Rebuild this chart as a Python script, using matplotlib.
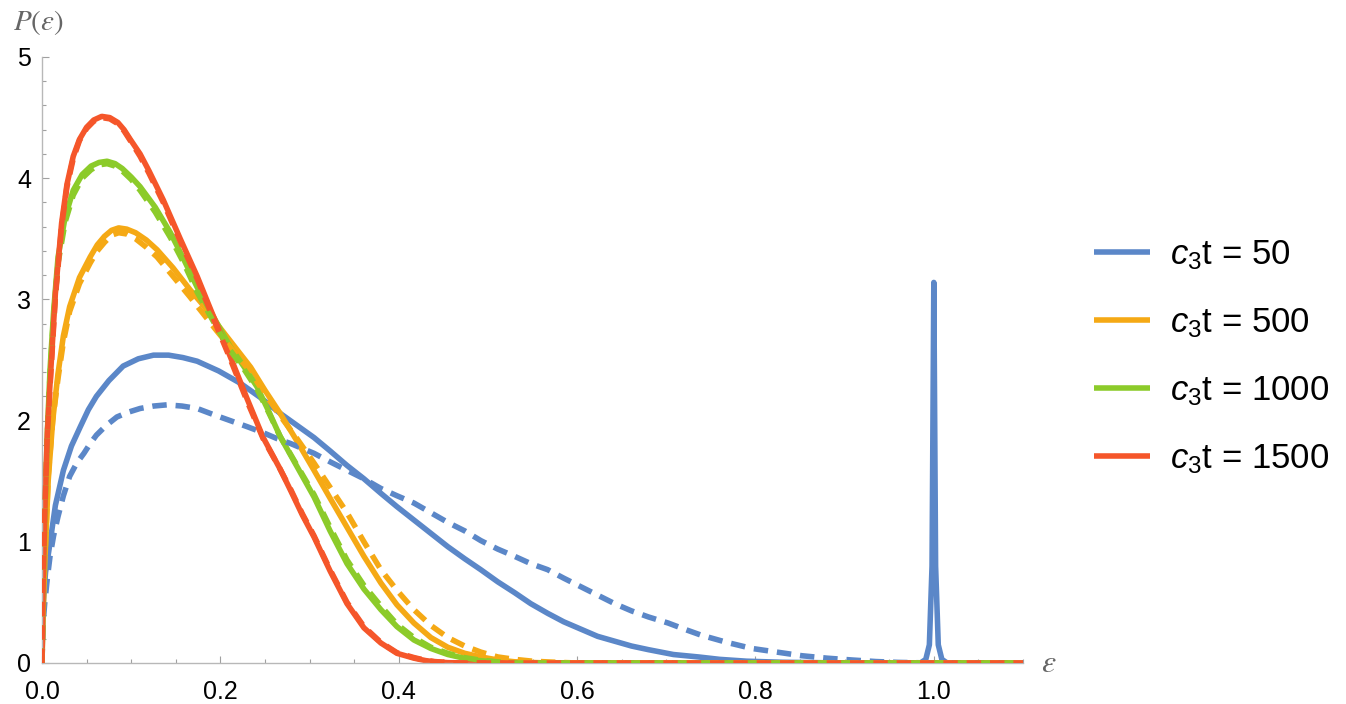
import matplotlib
matplotlib.use("Agg")
import matplotlib.pyplot as plt
from matplotlib.ticker import MultipleLocator, FormatStrFormatter

plt.rcParams['font.family'] = ['Liberation Sans', 'DejaVu Sans']
plt.rcParams['mathtext.fontset'] = 'custom'
plt.rcParams['mathtext.it'] = 'Liberation Sans:italic'
plt.rcParams['mathtext.rm'] = 'Liberation Sans'

# ---- data ----
labels = ["$c_3$t = 50", "$c_3$t = 500", "$c_3$t = 1000", "$c_3$t = 1500"]
colors = ["#5B87C8", "#F5A915", "#8CCB2A", "#F5562A"]

x_50 = [0, 0.001, 0.004, 0.009, 0.015, 0.024, 0.033, 0.043, 0.052, 0.061, 0.075, 0.091,
        0.108, 0.125, 0.142, 0.158, 0.174, 0.198, 0.222, 0.245, 0.267, 0.286, 0.305,
        0.323, 0.342, 0.361, 0.38, 0.398, 0.417, 0.436, 0.455, 0.474, 0.492, 0.511,
        0.53, 0.548, 0.567, 0.585, 0.604, 0.623, 0.642, 0.661, 0.68, 0.708, 0.736,
        0.76, 0.79, 0.83, 0.88, 0.985, 0.991, 0.995, 0.998, 1.0, 1.002, 1.005, 1.009,
        1.015, 1.1]
y_50 = [0, 0.45, 0.75, 0.99, 1.30, 1.59, 1.79, 1.95, 2.09, 2.20, 2.33, 2.45,
        2.51, 2.54, 2.54, 2.52, 2.49, 2.41, 2.31, 2.19, 2.06, 1.96, 1.86,
        1.75, 1.63, 1.52, 1.40, 1.29, 1.18, 1.07, 0.96, 0.86, 0.77, 0.67,
        0.58, 0.49, 0.41, 0.34, 0.28, 0.22, 0.18, 0.14, 0.11, 0.07, 0.05,
        0.03, 0.015, 0.006, 0.002, 0, 0.03, 0.15, 0.8, 3.14, 0.8, 0.15, 0.03,
        0, 0]

x_500 = [0, 0.001, 0.003, 0.007, 0.012, 0.018, 0.024, 0.031, 0.042, 0.054, 0.062, 0.07,
         0.078, 0.086, 0.095, 0.105, 0.117, 0.129, 0.147, 0.166, 0.181, 0.196, 0.215,
         0.234, 0.25, 0.267, 0.286, 0.305, 0.323, 0.342, 0.361, 0.38, 0.398, 0.417,
         0.436, 0.455, 0.474, 0.492, 0.511, 0.53, 0.55, 0.57, 1.1]
y_500 = [0, 0.35, 0.80, 1.51, 2.00, 2.39, 2.70, 2.94, 3.18, 3.35, 3.45, 3.52,
         3.57, 3.59, 3.58, 3.55, 3.49, 3.41, 3.26, 3.08, 2.95, 2.80, 2.62,
         2.44, 2.25, 2.06, 1.83, 1.59, 1.36, 1.12, 0.88, 0.66, 0.48, 0.33,
         0.21, 0.13, 0.08, 0.05, 0.025, 0.01, 0.004, 0, 0]

x_1000 = [0, 0.001, 0.003, 0.006, 0.009, 0.013, 0.018, 0.026, 0.035, 0.045, 0.055, 0.064,
          0.073, 0.082, 0.09, 0.1, 0.11, 0.127, 0.144, 0.159, 0.174, 0.192, 0.211,
          0.226, 0.241, 0.254, 0.267, 0.286, 0.305, 0.323, 0.342, 0.361, 0.38, 0.398,
          0.417, 0.436, 0.455, 0.473, 0.49, 0.51, 0.53, 1.1]
y_1000 = [0, 0.50, 1.20, 1.90, 2.42, 2.90, 3.35, 3.68, 3.90, 4.03, 4.10, 4.13,
          4.14, 4.12, 4.08, 4.01, 3.93, 3.76, 3.55, 3.33, 3.10, 2.86, 2.61,
          2.45, 2.28, 2.08, 1.87, 1.62, 1.37, 1.09, 0.82, 0.61, 0.44, 0.30,
          0.19, 0.12, 0.07, 0.04, 0.02, 0.008, 0, 0]

x_1500 = [0, 0.001, 0.0034, 0.006, 0.009, 0.015, 0.022, 0.028, 0.035, 0.042, 0.05, 0.058,
          0.067, 0.076, 0.085, 0.092, 0.099, 0.11, 0.12, 0.136, 0.155, 0.174, 0.19,
          0.211, 0.23, 0.248, 0.267, 0.279, 0.292, 0.305, 0.323, 0.342, 0.361, 0.38,
          0.398, 0.417, 0.43, 0.44, 0.455, 0.47, 1.1]
y_1500 = [0, 0.60, 1.32, 1.90, 2.31, 3.05, 3.63, 3.95, 4.18, 4.32, 4.42, 4.48,
          4.51, 4.50, 4.46, 4.40, 4.32, 4.20, 4.06, 3.82, 3.50, 3.19, 2.90,
          2.53, 2.18, 1.86, 1.60, 1.42, 1.22, 1.04, 0.76, 0.49, 0.29, 0.165,
          0.08, 0.04, 0.02, 0.01, 0.003, 0, 0]

# dashed (simulation) curves
xd_50 = [0, 0.001, 0.003, 0.006, 0.009, 0.013, 0.018, 0.024, 0.031, 0.039, 0.047, 0.054,
         0.061, 0.072, 0.084, 0.097, 0.11, 0.125, 0.14, 0.157, 0.174, 0.192, 0.211,
         0.23, 0.248, 0.264, 0.279, 0.292, 0.305, 0.323, 0.342, 0.361, 0.38, 0.398,
         0.417, 0.436, 0.455, 0.474, 0.492, 0.511, 0.53, 0.548, 0.567, 0.585, 0.604,
         0.623, 0.642, 0.661, 0.68, 0.702, 0.72, 0.739, 0.768, 0.796, 0.824, 0.852,
         0.88, 0.908, 0.935, 0.96, 1.0, 1.1]
yd_50 = [0, 0.30, 0.49, 0.70, 0.88, 1.05, 1.21, 1.38, 1.54, 1.65, 1.73, 1.81,
         1.88, 1.96, 2.03, 2.07, 2.10, 2.12, 2.13, 2.12, 2.10, 2.05, 2.00,
         1.95, 1.90, 1.85, 1.81, 1.77, 1.73, 1.66, 1.59, 1.52, 1.44, 1.38,
         1.32, 1.24, 1.16, 1.09, 1.01, 0.94, 0.88, 0.82, 0.77, 0.70, 0.63,
         0.56, 0.49, 0.43, 0.38, 0.33, 0.28, 0.23, 0.17, 0.12, 0.09, 0.06,
         0.04, 0.025, 0.012, 0.005, 0, 0]

xd_500 = [0, 0.001, 0.003, 0.007, 0.012, 0.018, 0.024, 0.031, 0.042, 0.054, 0.062, 0.07,
          0.078, 0.086, 0.095, 0.105, 0.117, 0.129, 0.147, 0.166, 0.181, 0.196, 0.215,
          0.234, 0.25, 0.267, 0.286, 0.305, 0.323, 0.342, 0.361, 0.38, 0.398, 0.417,
          0.436, 0.455, 0.474, 0.492, 0.511, 0.53, 0.55, 0.57, 0.6, 1.1]
yd_500 = [0, 0.35, 0.80, 1.55, 2.00, 2.35, 2.65, 2.90, 3.13, 3.30, 3.40, 3.47,
          3.53, 3.55, 3.54, 3.50, 3.43, 3.35, 3.19, 3.02, 2.88, 2.74, 2.57,
          2.40, 2.22, 2.04, 1.85, 1.65, 1.45, 1.24, 1.00, 0.77, 0.60, 0.44,
          0.31, 0.21, 0.14, 0.09, 0.05, 0.03, 0.015, 0.008, 0, 0]

xd_1000 = [0, 0.001, 0.003, 0.006, 0.009, 0.013, 0.018, 0.026, 0.035, 0.045, 0.055, 0.064,
           0.073, 0.082, 0.09, 0.1, 0.11, 0.127, 0.144, 0.159, 0.174, 0.192, 0.211,
           0.226, 0.241, 0.254, 0.267, 0.286, 0.305, 0.323, 0.342, 0.361, 0.38, 0.398,
           0.417, 0.436, 0.455, 0.473, 0.49, 0.51, 0.53, 1.1]
yd_1000 = [0, 0.48, 1.16, 1.86, 2.38, 2.86, 3.30, 3.64, 3.86, 4.00, 4.07, 4.11,
           4.12, 4.10, 4.06, 3.99, 3.90, 3.72, 3.51, 3.30, 3.06, 2.82, 2.58,
           2.43, 2.26, 2.07, 1.87, 1.63, 1.39, 1.12, 0.85, 0.64, 0.47, 0.32,
           0.21, 0.13, 0.08, 0.045, 0.025, 0.01, 0, 0]

xd_1500 = [0, 0.001, 0.0034, 0.006, 0.009, 0.015, 0.022, 0.028, 0.035, 0.042, 0.05, 0.058,
           0.067, 0.076, 0.085, 0.092, 0.099, 0.11, 0.12, 0.136, 0.155, 0.174, 0.19,
           0.211, 0.23, 0.248, 0.267, 0.279, 0.292, 0.305, 0.323, 0.342, 0.361, 0.38,
           0.398, 0.417, 0.43, 0.44, 0.455, 0.47, 1.1]
yd_1500 = [0, 0.58, 1.30, 1.88, 2.28, 3.02, 3.60, 3.93, 4.16, 4.31, 4.41, 4.47,
           4.50, 4.49, 4.45, 4.39, 4.31, 4.18, 4.04, 3.80, 3.48, 3.17, 2.88,
           2.51, 2.16, 1.85, 1.60, 1.43, 1.23, 1.05, 0.77, 0.50, 0.30, 0.17,
           0.085, 0.045, 0.022, 0.012, 0.004, 0, 0]

solid = [(x_50, y_50), (x_500, y_500), (x_1000, y_1000), (x_1500, y_1500)]
dashed = [(xd_50, yd_50), (xd_500, yd_500), (xd_1000, yd_1000), (xd_1500, yd_1500)]

# ---- figure ----
fig = plt.figure(figsize=(13.46, 7.04), dpi=100)
ax = fig.add_axes([42/1346, 41/704, (1023-42)/1346, (663-57)/704])

lw = 4.0
handles = []
for (xs, ys), c, lab in zip(solid, colors, labels):
    h, = ax.plot(xs, ys, color=c, lw=lw, solid_capstyle='butt', solid_joinstyle='round',
                 label=lab, zorder=2)
    handles.append(h)
for (xs, ys), c in zip(dashed, colors):
    ax.plot(xs, ys, color=c, lw=lw, linestyle=(0, (2.6, 1.6)), dash_capstyle='butt',
            zorder=3)

ax.set_xlim(0, 1.1)
ax.set_ylim(0, 5)
ax.xaxis.set_major_locator(MultipleLocator(0.2))
ax.xaxis.set_minor_locator(MultipleLocator(0.05))
ax.yaxis.set_major_locator(MultipleLocator(1))
ax.yaxis.set_minor_locator(MultipleLocator(0.2))
ax.xaxis.set_major_formatter(FormatStrFormatter('%.1f'))
ax.yaxis.set_major_formatter(FormatStrFormatter('%d'))

for s in ['top', 'right']:
    ax.spines[s].set_visible(False)
for s in ['left', 'bottom']:
    ax.spines[s].set_color('#B8B8B8')
    ax.spines[s].set_linewidth(1.0)

ax.tick_params(which='both', direction='in', color='#A0A0A0', width=0.8, labelsize=18,
               labelcolor='black')
ax.tick_params(which='major', length=5)
ax.tick_params(which='minor', length=3)
ax.tick_params(axis='x', which='major', pad=12)
ax.tick_params(axis='y', which='major', pad=8)

fig.text(13/1346, 1 - 30/704, r"$P(\epsilon)$", fontsize=21, color='#666666',
         math_fontfamily='stix', ha='left', va='baseline')
fig.text(1049/1346, 1 - 664/704, r"$\epsilon$", fontsize=23, color='#666666',
         math_fontfamily='stix', ha='center', va='center')

fig.legend(handles=handles, loc='center left', bbox_to_anchor=(1094/1346, 1 - 357/704),
           frameon=False, fontsize=25, handlelength=1.62, handletextpad=0.58,
           labelspacing=0.99, borderpad=0, borderaxespad=0)

fig.savefig("out.png", dpi=100)
